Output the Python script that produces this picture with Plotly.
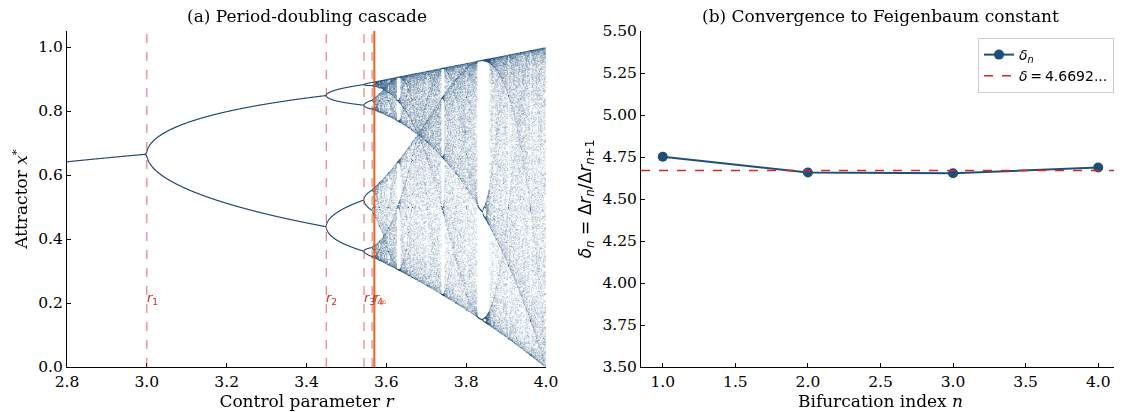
import numpy as np
import plotly.graph_objects as go

# ---- data ----
r_min, r_max = 2.8, 4.0
n_r = 1400            # number of control-parameter samples
n_transient = 800     # discarded iterations
n_keep = 160          # kept iterations per r
bif_names = ["r<sub>1</sub>", "r<sub>2</sub>", "r<sub>3</sub>", "r<sub>4</sub>", "r<sub>∞</sub>"]
bif_values = [3.0, 3.4495, 3.5441, 3.5644, 3.5699]
n_index = [1, 2, 3, 4]
delta_n = [4.751, 4.658, 4.653, 4.688]
feigenbaum = 4.6692

# logistic map attractor
r = np.linspace(r_min, r_max, n_r)
x = np.full_like(r, 0.5)
for _ in range(n_transient):
    x = r * x * (1 - x)
rs, xs = [], []
for _ in range(n_keep):
    x = r * x * (1 - x)
    rs.append(r.copy())
    xs.append(x.copy())
rs = np.concatenate(rs)
xs = np.concatenate(xs)

# page body has an 8px margin: shrink the figure so it fits the 1122x412 window
OFF = 8
W, H = 1122 - OFF, 412 - OFF
def fx(px): return (px - OFF) / W
def fy(py): return 1 - (py - OFF) / H

serif = "DejaVu Serif"
sans = "DejaVu Sans"
navy = "#1f4e79"
red = "#d62728"
orange = "#e6550d"

fig = go.Figure()
fig.add_trace(go.Scattergl(
    x=rs, y=xs, mode="markers",
    marker=dict(size=1, color=navy, opacity=0.16, line=dict(width=0)),
    showlegend=False, hoverinfo="skip", xaxis="x", yaxis="y"))

fig.add_trace(go.Scatter(
    x=n_index, y=delta_n, mode="lines+markers", name="<i>δ<sub>n</sub></i>",
    line=dict(color=navy, width=2), marker=dict(size=10, color=navy),
    xaxis="x2", yaxis="y2"))
fig.add_trace(go.Scatter(
    x=[0.85, 4.15], y=[feigenbaum, feigenbaum], mode="lines",
    name="<i>δ</i>\u2009=\u20094.6692...",
    line=dict(color=red, width=1.5, dash="dash"),
    xaxis="x2", yaxis="y2"))

shapes = []
annotations = []
for i, (nm, v) in enumerate(zip(bif_names, bif_values)):
    last = i == len(bif_values) - 1
    shapes.append(dict(
        type="line", xref="x", yref="y domain", x0=v, x1=v, y0=0, y1=1,
        line=dict(color=orange if last else red, width=2 if last else 1,
                  dash="solid" if last else "dash"),
        opacity=0.9 if last else 0.7, layer="above"))
    annotations.append(dict(
        x=v, y=0.215, xref="x", yref="y", text="<i>r</i>" + nm[1:],
        showarrow=False, xanchor="left", yanchor="middle", xshift=-2,
        font=dict(family=sans, size=13, color=orange if last else red)))

title_font = dict(family=serif, size=17, color="black")
annotations += [
    dict(text="(a) Period-doubling cascade", x=fx(306.5), y=fy(16), xref="paper", yref="paper",
         showarrow=False, font=title_font, xanchor="center", yanchor="middle"),
    dict(text="(b) Convergence to Feigenbaum constant", x=fx(880), y=fy(16), xref="paper", yref="paper",
         showarrow=False, font=title_font, xanchor="center", yanchor="middle"),
]

axis_common = dict(showline=True, linecolor="black", linewidth=1, ticks="inside", ticklen=4,
                   tickcolor="black", showgrid=False, zeroline=False, mirror=False, automargin=False,
                   tickfont=dict(family=serif, size=15.5, color="black"))
label_font = dict(family=serif, size=17, color="black")

fig.update_layout(
    width=W, height=H, margin=dict(l=0, r=0, t=0, b=0),
    plot_bgcolor="white", paper_bgcolor="white",
    shapes=shapes, annotations=annotations,
    xaxis=dict(domain=[fx(67), fx(546)], range=[2.8, 4.0], tickvals=[2.8, 3.0, 3.2, 3.4, 3.6, 3.8, 4.0],
               tickformat=".1f", anchor="y",
               title=dict(text="Control parameter <i>r</i>", font=label_font, standoff=2),
               **axis_common),
    yaxis=dict(domain=[fy(367), fy(31)], range=[0, 1.05], tickvals=[0, 0.2, 0.4, 0.6, 0.8, 1.0],
               tickformat=".1f", anchor="x",
               title=dict(text="Attractor <i>x</i><sup>*</sup>", font=label_font, standoff=6),
               **axis_common),
    xaxis2=dict(domain=[fx(641), fx(1120)], range=[0.85, 4.15], tickvals=[1.0, 1.5, 2.0, 2.5, 3.0, 3.5, 4.0],
                tickformat=".1f", anchor="y2",
                title=dict(text="Bifurcation index <i>n</i>", font=label_font, standoff=2),
                **axis_common),
    yaxis2=dict(domain=[fy(367), fy(31)], range=[3.5, 5.5], tickvals=[3.5, 3.75, 4.0, 4.25, 4.5, 4.75, 5.0, 5.25, 5.5],
                tickformat=".2f", anchor="x2",
                title=dict(text="<i>δ<sub>n</sub></i> = Δ<i>r<sub>n</sub></i>/Δ<i>r</i><sub><i>n</i>+1</sub>",
                           font=dict(family=sans, size=17, color="black"), standoff=6),
                **axis_common),
    legend=dict(x=fx(1114), y=fy(38), xanchor="right", yanchor="top",
                bgcolor="rgba(255,255,255,0.8)", bordercolor="#cccccc", borderwidth=1,
                font=dict(family=sans, size=14, color="black"), tracegroupgap=4),
)

fig.write_html("out.html")
